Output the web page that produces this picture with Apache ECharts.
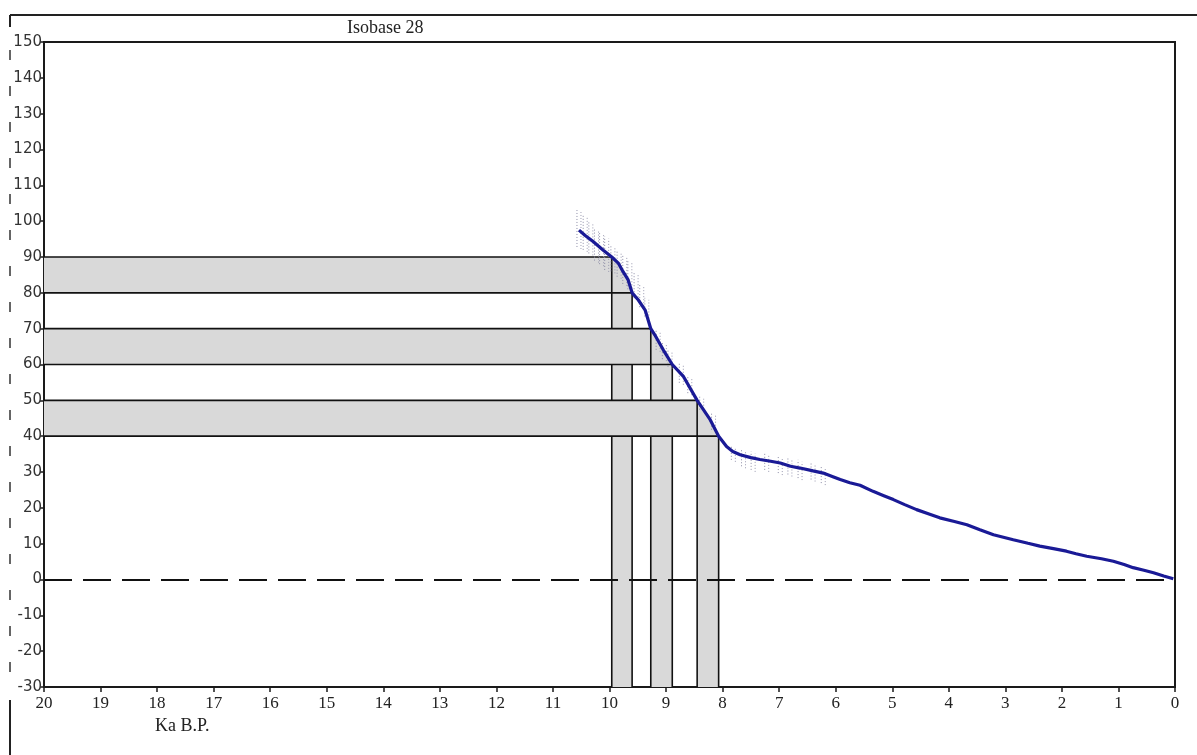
<!DOCTYPE html>
<html>
<head>
<meta charset="utf-8">
<script src="https://cdn.jsdelivr.net/npm/echarts@6/dist/echarts.min.js"></script>
<style>
html,body{margin:0;padding:0;background:#fff;}
#chart{width:1197px;height:755px;}
</style>
</head>
<body>
<div id="chart"></div>
<script>
// ---- data ----
var title = 'Isobase 28';
var xName = 'Ka B.P.';
var xMin = 0, xMax = 20, xStep = 1;
var yMin = -30, yMax = 150, yStep = 10;

// relative sea-level curve: age (ka B.P.) and elevation (m)
var ages = [10.54, 10.43, 10.29, 10.11, 9.96, 9.84, 9.76, 9.67, 9.6, 9.49, 9.37, 9.27, 9.2, 9.05, 8.89, 8.69, 8.45, 8.22, 8.07, 7.93, 7.82, 7.69, 7.5, 7.34, 7.15, 6.98, 6.8, 6.63, 6.4, 6.22, 6.05, 5.92, 5.75, 5.57, 5.34, 5.15, 4.98, 4.78, 4.57, 4.35, 4.16, 3.9, 3.68, 3.45, 3.21, 2.86, 2.6, 2.39, 2.15, 1.92, 1.75, 1.56, 1.3, 1.09, 0.9, 0.74, 0.55, 0.38, 0.2, 0.03];
var elev = [97.5, 96, 94.3, 91.9, 90, 88.2, 85.9, 83.6, 80, 78, 75.2, 70, 68.3, 64.1, 60, 56.6, 50, 44.6, 40, 37.1, 35.7, 34.8, 34, 33.5, 33, 32.5, 31.6, 31.1, 30.3, 29.7, 28.7, 27.9, 27, 26.3, 24.6, 23.4, 22.3, 20.9, 19.5, 18.3, 17.2, 16.2, 15.3, 13.9, 12.5, 11.1, 10.1, 9.3, 8.6, 7.9, 7.2, 6.5, 5.8, 5.1, 4.2, 3.3, 2.6, 1.9, 1.0, 0.2];

// uncertainty ranges (dotted)
var errAge  = [10.54, 10.43, 10.33, 10.23, 10.14, 10.05, 9.94, 9.83, 9.73, 9.64, 9.53, 9.43, 9.34, 9.14, 9.03, 8.93, 8.73, 8.58, 8.37, 8.16, 7.81, 7.63, 7.46, 7.22, 6.98, 6.81, 6.63, 6.4, 6.22];
var errLow  = [92.8, 92, 91, 89, 88, 86.4, 86, 84.5, 82.5, 81, 78.5, 76, 73.4, 64.1, 61.5, 59.4, 54.9, 52, 47.4, 41.8, 33.4, 31.6, 30.6, 30.6, 29.7, 29.3, 28.3, 27.9, 26.9];
var errHigh = [103.1, 101.7, 99.8, 98, 97, 95.7, 93.5, 92, 90.5, 89, 86, 82.7, 78.6, 69.7, 66.5, 64, 60.4, 56.6, 51, 46.5, 37.1, 36.2, 35.7, 35.4, 34.3, 33.9, 33.4, 32.5, 31.6];

// shaded elevation bands and the ages where the curve crosses them
var bandHigh = [90, 70, 50];
var bandLow  = [80, 60, 40];
var bandAgeHigh = [9.96, 9.27, 8.45];
var bandAgeLow  = [9.6, 8.89, 8.07];

// ---- chart ----
var curve = ages.map(function (a, i) { return [a, elev[i]]; });
var errData = errAge.map(function (a, i) { return [a, errLow[i], errHigh[i]]; });
var bandData = bandHigh.map(function (h, i) { return [bandAgeHigh[i], bandAgeLow[i], bandLow[i], h]; });

var chart = echarts.init(document.getElementById('chart'), null, {renderer: 'canvas'});

function bandRender(params, api) {
  var aHi = api.value(0), aLo = api.value(1), lo = api.value(2), hi = api.value(3);
  var pts = [];
  pts.push(api.coord([xMax, hi]));
  pts.push(api.coord([aHi, hi]));
  for (var k = 0; k < ages.length; k++) {
    if (ages[k] < aHi && ages[k] > aLo) pts.push(api.coord([ages[k], elev[k]]));
  }
  pts.push(api.coord([aLo, lo]));
  pts.push(api.coord([aLo, yMin]));
  pts.push(api.coord([aHi, yMin]));
  pts.push(api.coord([aHi, lo]));
  pts.push(api.coord([xMax, lo]));
  var ls = {stroke: '#111', lineWidth: 1.6};
  function seg(p, q) {
    return {type: 'line', shape: {x1: p[0], y1: p[1], x2: q[0], y2: q[1]}, style: ls};
  }
  return {
    type: 'group',
    children: [
      {type: 'polygon', shape: {points: pts}, style: {fill: '#d9d9d9'}},
      seg(api.coord([xMax, hi]), api.coord([aHi, hi])),
      seg(api.coord([xMax, lo]), api.coord([aLo, lo])),
      seg(api.coord([aHi, hi]), api.coord([aHi, yMin])),
      seg(api.coord([aLo, lo]), api.coord([aLo, yMin]))
    ]
  };
}

function errRender(params, api) {
  var p = api.coord([api.value(0), api.value(1)]);
  var q = api.coord([api.value(0), api.value(2)]);
  return {
    type: 'group',
    children: [
      {type: 'line', shape: {x1: p[0] - 2, y1: p[1], x2: q[0] - 2, y2: q[1]},
       style: {stroke: '#8c8ca6', lineWidth: 1, lineDash: [1, 2]}},
      {type: 'line', shape: {x1: p[0] + 2, y1: p[1] + 2, x2: q[0] + 2, y2: q[1] + 2},
       style: {stroke: '#9a9ab0', lineWidth: 1, lineDash: [1, 2]}}
    ]
  };
}

var option = {
  animation: false,
  backgroundColor: '#fff',
  grid: {left: 44, top: 42, width: 1131, height: 645, show: true, borderColor: '#1a1a1a', borderWidth: 2, backgroundColor: 'transparent'},
  xAxis: {
    type: 'value', min: xMin, max: xMax, interval: xStep, inverse: true,
    axisLine: {show: true, onZero: false, lineStyle: {color: '#1a1a1a', width: 2}},
    axisTick: {show: true, length: 5, lineStyle: {color: '#1a1a1a', width: 1.5}},
    axisLabel: {color: '#222', fontFamily: 'Liberation Serif', fontSize: 17, margin: 8},
    splitLine: {show: false}
  },
  yAxis: {
    type: 'value', min: yMin, max: yMax, interval: yStep,
    axisLine: {show: true, onZero: false, lineStyle: {color: '#1a1a1a', width: 2}},
    axisTick: {show: true, length: 4, lineStyle: {color: '#1a1a1a', width: 1.5}},
    axisLabel: {color: '#333', fontFamily: 'DejaVu Sans', fontSize: 15, margin: 2},
    splitLine: {show: false}
  },
  graphic: [
    {type: 'line', shape: {x1: 10, y1: 15, x2: 1197, y2: 15}, style: {stroke: '#222', lineWidth: 2}},
    {type: 'line', shape: {x1: 10, y1: 15, x2: 10, y2: 27}, style: {stroke: '#222', lineWidth: 2}},
    {type: 'line', shape: {x1: 10, y1: 50, x2: 10, y2: 690}, style: {stroke: '#333', lineWidth: 1.5, lineDash: [10, 26]}},
    {type: 'line', shape: {x1: 10, y1: 700, x2: 10, y2: 755}, style: {stroke: '#222', lineWidth: 2}},
    {type: 'text', left: 347, top: 19, style: {text: title, fill: '#222', font: '18px "Liberation Serif"'}},
    {type: 'text', left: 155, top: 717, style: {text: xName, fill: '#222', font: '18px "Liberation Serif"'}}
  ],
  series: [
    {type: 'custom', renderItem: bandRender, data: bandData, z: 1, silent: true},
    {type: 'custom', renderItem: errRender, data: errData, z: 2, silent: true},
    {
      type: 'line', data: curve, showSymbol: false, z: 5, silent: true,
      lineStyle: {color: '#1a1a96', width: 3.2},
      markLine: {
        silent: true, symbol: 'none', label: {show: false},
        lineStyle: {color: '#111', width: 2, type: [28, 11]},
        data: [[{coord: [xMax, 0]}, {coord: [xMin, 0]}]]
      }
    }
  ]
};
chart.setOption(option);
</script>
</body>
</html>
